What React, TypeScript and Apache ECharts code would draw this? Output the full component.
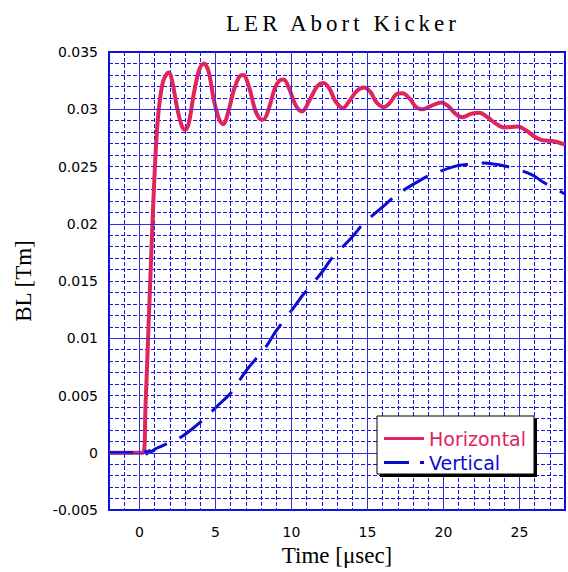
import React, { useEffect, useRef } from "react";
import * as echarts from "echarts";

const titleText = "LER Abort Kicker";
const xName = "Time [μsec]";
const yName = "BL [Tm]";
const seriesNames = ["Horizontal", "Vertical"];

const horizontal: [number, number][] = [
  [-2, 0], [0.25, 0], [0.4, 0.004], [0.6, 0.011], [0.8, 0.018], [1.0, 0.0244],
  [1.15, 0.028], [1.3, 0.0303], [1.55, 0.0324], [1.8, 0.0331], [1.95, 0.0332],
  [2.15, 0.0325], [2.5, 0.03], [2.8, 0.0285], [3.0, 0.0282], [3.25, 0.0288],
  [3.6, 0.0315], [3.95, 0.0335], [4.24, 0.034], [4.55, 0.0333], [4.9, 0.0308],
  [5.25, 0.0291], [5.52, 0.0287], [5.85, 0.0298], [6.2, 0.0316], [6.55, 0.0328],
  [6.83, 0.033], [7.2, 0.032], [7.6, 0.03], [7.9, 0.0292], [8.16, 0.0291],
  [8.5, 0.03], [8.9, 0.0318], [9.2, 0.0325], [9.49, 0.0326], [9.85, 0.0318],
  [10.3, 0.0303], [10.7, 0.0298], [11.2, 0.0308], [11.7, 0.032], [12.12, 0.0323],
  [12.5, 0.0318], [12.9, 0.0307], [13.39, 0.0301], [13.8, 0.0307], [14.3, 0.0316],
  [14.78, 0.0319], [15.2, 0.0315], [15.6, 0.0306], [16.09, 0.0302], [16.5, 0.0306],
  [16.9, 0.0313], [17.31, 0.0314], [17.8, 0.0309], [18.2, 0.0302], [18.66, 0.03],
  [19.2, 0.0303], [19.86, 0.0306], [20.3, 0.0303], [20.8, 0.0296], [21.27, 0.0293],
  [21.8, 0.0296], [22.37, 0.0297], [22.9, 0.0293], [23.5, 0.0287], [24.0, 0.0284],
  [24.87, 0.0285], [25.5, 0.0281], [26.0, 0.0276], [26.5, 0.0273], [27.27, 0.0272],
  [28, 0.0269],
];

const vertical: [number, number][] = [
  [-2, 0], [0, 0], [0.2, 0.0001], [0.35, 0.0003], [0.5, -0.0001], [0.65, 0.0002],
  [0.8, 0.0001], [1.0, 0.0003], [1.5, 0.0006], [2.0, 0.0009], [2.65, 0.0013],
  [3.3, 0.0019], [3.95, 0.0026], [4.6, 0.0034], [5.3, 0.0043], [6.0, 0.0052],
  [6.57, 0.0063], [7.16, 0.0074], [8.35, 0.0093], [8.97, 0.0106], [10.05, 0.0125],
  [10.77, 0.0138], [11.97, 0.0157], [12.67, 0.017], [13.97, 0.0188], [14.74, 0.02],
  [16.2, 0.0217], [17.0, 0.0226], [18.6, 0.0239], [19.4, 0.0244], [21.0, 0.0251],
  [21.8, 0.0252], [22.6, 0.0253], [23.4, 0.0252], [24.2, 0.025], [25.8, 0.0243],
  [26.6, 0.0236], [28, 0.0226],
];

const xMajor = [0, 5, 10, 15, 20, 25];
const yMajor = [-0.005, 0, 0.005, 0.01, 0.015, 0.02, 0.025, 0.03, 0.035];

const RED = "#e0245c";
const BLUE = "#0a0ad0";
const GRID_MINOR = "#1515e6";
const GRID_MAJOR = "#3030dc";

export default function App() {
  const ref = useRef<HTMLDivElement>(null);
  useEffect(() => {
    document.body.style.margin = "0";
    const chart = echarts.init(ref.current!, undefined, { renderer: "svg" });
    const majorLines = [
      ...xMajor.map((v) => ({ xAxis: v })),
      ...yMajor.map((v) => ({ yAxis: v })),
    ];
    chart.setOption({
      animation: false,
      backgroundColor: "#ffffff",
      title: {
        text: titleText,
        left: 338,
        top: 7,
        textAlign: "center",
        textStyle: {
          fontFamily: "Liberation Serif",
          fontSize: 23,
          fontWeight: "normal",
          color: "#000",
        },
      },
      grid: {
        left: 109,
        top: 52,
        right: 0,
        bottom: 62,
        show: true,
        borderColor: "#0c0cd8",
        borderWidth: 2,
        backgroundColor: "transparent",
      },
      xAxis: {
        type: "value",
        min: -2,
        max: 28,
        interval: 1,
        name: xName,
        nameLocation: "middle",
        nameGap: 34,
        nameTextStyle: { fontFamily: "Liberation Serif", fontSize: 23, color: "#000" },
        axisLine: { show: false },
        axisTick: { show: false },
        axisLabel: {
          fontFamily: "DejaVu Sans",
          fontSize: 14,
          color: "#000",
          margin: 15,
          formatter: (v: number) => (Math.round(v) % 5 === 0 ? String(Math.round(v)) : ""),
        },
        splitLine: {
          show: true,
          lineStyle: { color: GRID_MINOR, width: 1, type: [4, 2] },
        },
      },
      yAxis: {
        type: "value",
        min: -0.005,
        max: 0.035,
        interval: 0.001,
        name: yName,
        nameLocation: "middle",
        nameGap: 74,
        nameTextStyle: { fontFamily: "Liberation Serif", fontSize: 23, color: "#000" },
        axisLine: { show: false },
        axisTick: { show: false },
        axisLabel: {
          fontFamily: "DejaVu Sans",
          fontSize: 14,
          color: "#000",
          margin: 11,
          formatter: (v: number) => {
            const k = Math.round(v * 1000);
            if (k % 5 !== 0) return "";
            return String(parseFloat((k / 1000).toFixed(3)));
          },
        },
        splitLine: {
          show: true,
          lineStyle: { color: GRID_MINOR, width: 1, type: [4, 2] },
        },
      },
      legend: {
        data: [
          {
            name: seriesNames[0],
            icon: "path://M0,0h40v3h-40z",
            itemStyle: { color: RED },
            textStyle: { color: RED },
          },
          {
            name: seriesNames[1],
            icon: "path://M0,0h25v3h-25zM36,0h4v3h-4z",
            itemStyle: { color: BLUE },
            textStyle: { color: BLUE },
          },
        ],
        orient: "vertical",
        left: 379,
        top: 424,
        itemWidth: 40,
        itemHeight: 3,
        itemGap: 5,
        z: 20,
        textStyle: { fontFamily: "DejaVu Sans", fontSize: 19 },
        selectedMode: false,
      },
      graphic: [
        {
          type: "rect",
          shape: { x: 380, y: 419, width: 157, height: 58 },
          style: { fill: "#000" },
          z: 10,
        },
        {
          type: "rect",
          shape: { x: 377, y: 416, width: 157, height: 58 },
          style: { fill: "#fff", stroke: "#000", lineWidth: 1 },
          z: 11,
        },
      ],
      series: [
        {
          name: "grid-major",
          type: "line",
          data: [[-2, 0]],
          symbol: "none",
          lineStyle: { opacity: 0 },
          z: 1,
          silent: true,
          markLine: {
            silent: true,
            symbol: "none",
            label: { show: false },
            lineStyle: { color: GRID_MAJOR, width: 1, type: "solid" },
            data: majorLines,
          },
        },
        {
          name: seriesNames[0],
          type: "line",
          data: horizontal,
          symbol: "none",
          smooth: 0.35,
          lineStyle: { color: RED, width: 4 },
          itemStyle: { color: RED },
          z: 3,
        },
        {
          name: seriesNames[1],
          type: "line",
          data: vertical,
          symbol: "none",
          smooth: 0.3,
          lineStyle: { color: BLUE, width: 3, type: [28, 14], dashOffset: 4 },
          itemStyle: { color: BLUE },
          z: 4,
        },
      ],
    });
    const svgTexts = ref.current!.querySelectorAll("text");
    svgTexts.forEach((t) => {
      if (t.textContent === titleText) {
        (t as SVGTextElement).style.letterSpacing = "4px";
      }
    });
    return () => chart.dispose();
  }, []);
  return <div ref={ref} style={{ width: 568, height: 572 }} />;
}
